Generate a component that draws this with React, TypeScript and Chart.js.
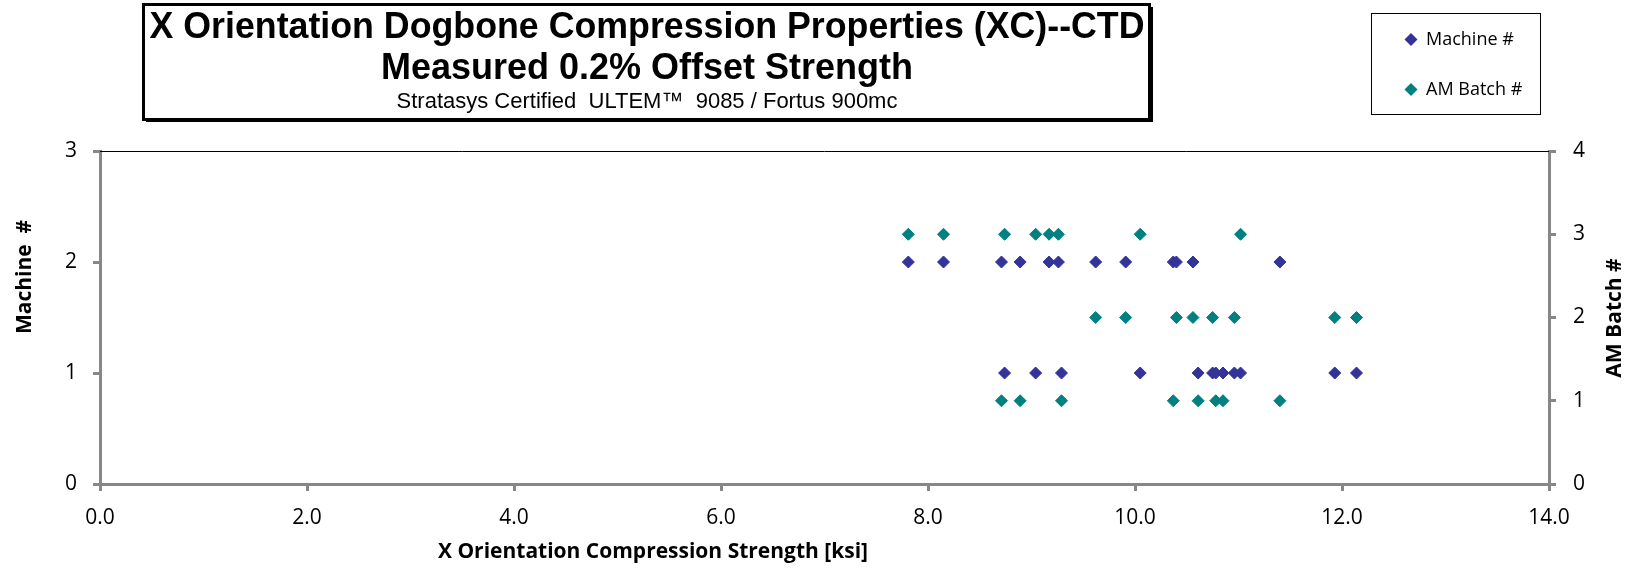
import { useEffect, useRef } from "react";
import { Chart, registerables } from "chart.js";

Chart.register(...registerables);

// ---- Data ----
const machineOneStrength = [8.74, 9.04, 9.29, 10.05, 10.61, 10.75, 10.78, 10.85, 10.96, 11.02, 11.93, 12.14];
const machineTwoStrength = [7.81, 8.15, 8.71, 8.89, 9.17, 9.26, 9.62, 9.91, 10.37, 10.4, 10.56, 11.4];
const batchOneStrength = [8.71, 8.89, 9.29, 10.37, 10.61, 10.78, 10.85, 11.4];
const batchTwoStrength = [9.62, 9.91, 10.4, 10.56, 10.75, 10.96, 11.93, 12.14];
const batchThreeStrength = [7.81, 8.15, 8.74, 9.04, 9.17, 9.26, 10.05, 11.02];

const machineGroups = [
  { id: 1, values: machineOneStrength },
  { id: 2, values: machineTwoStrength },
];
const batchGroups = [
  { id: 1, values: batchOneStrength },
  { id: 2, values: batchTwoStrength },
  { id: 3, values: batchThreeStrength },
];

const seriesLabels = ["Machine #", "AM Batch #"];
const seriesColors = ["#333399", "#008080"];

const titleLines = [
  "X Orientation Dogbone Compression Properties (XC)--CTD",
  "Measured 0.2% Offset Strength",
  "Stratasys Certified  ULTEM\u2122  9085 / Fortus 900mc",
];
const xAxisTitle = "X Orientation Compression Strength [ksi]";
const leftAxisTitle = "Machine  #";
const rightAxisTitle = "AM Batch #";

const xRange = [0, 14, 2];
const leftRange = [0, 3, 1];
const rightRange = [0, 4, 1];

const AXIS_GREY = "#878787";
const FONT = "'Open Sans', 'DejaVu Sans', sans-serif";
const TITLE_FONT = "'Liberation Sans', Arial, sans-serif";

const decorPlugin = {
  id: "decor",
  beforeDatasetsDraw(chart: any) {
    const { ctx, chartArea } = chart;
    ctx.save();
    ctx.strokeStyle = "#000";
    ctx.lineWidth = 1;
    ctx.beginPath();
    ctx.moveTo(chartArea.left, chartArea.top + 0.5);
    ctx.lineTo(chartArea.right, chartArea.top + 0.5);
    ctx.stroke();
    ctx.restore();
  },
  afterDraw(chart: any) {
    const { ctx } = chart;
    ctx.save();

    // Title box
    ctx.fillStyle = "#fff";
    ctx.fillRect(142, 3, 1010, 119);
    ctx.strokeStyle = "#000";
    ctx.lineWidth = 3;
    ctx.strokeRect(143.5, 4.5, 1006, 115);
    ctx.lineWidth = 2;
    ctx.beginPath();
    ctx.moveTo(146, 121);
    ctx.lineTo(1152, 121);
    ctx.lineTo(1152, 7);
    ctx.stroke();
    ctx.fillStyle = "#000";
    ctx.textAlign = "center";
    ctx.textBaseline = "alphabetic";
    const cx = 647;
    ctx.font = `bold 36px ${TITLE_FONT}`;
    ctx.fillText(titleLines[0], cx, 38, 995);
    ctx.fillText(titleLines[1], cx, 79);
    ctx.font = `22px ${TITLE_FONT}`;
    ctx.fillText(titleLines[2], cx, 108);

    // Legend box
    ctx.fillStyle = "#fff";
    ctx.fillRect(1371, 13, 170, 101);
    ctx.strokeStyle = "#000";
    ctx.lineWidth = 1;
    ctx.strokeRect(1371.5, 13.5, 169, 101);
    const rows = [39.5, 89.5];
    chart.data.datasets.forEach((ds: any, i: number) => {
      const y = rows[i];
      const x = 1411;
      const r = 6.5;
      ctx.fillStyle = ds.backgroundColor;
      ctx.beginPath();
      ctx.moveTo(x - r, y);
      ctx.lineTo(x, y - r);
      ctx.lineTo(x + r, y);
      ctx.lineTo(x, y + r);
      ctx.closePath();
      ctx.fill();
      ctx.fillStyle = "#000";
      ctx.font = `18px ${FONT}`;
      ctx.textAlign = "left";
      ctx.textBaseline = "middle";
      ctx.fillText(ds.label, 1426, y);
    });

    // Axis titles
    ctx.fillStyle = "#000";
    ctx.font = `bold 21px ${FONT}`;
    ctx.textAlign = "center";
    ctx.textBaseline = "middle";
    ctx.fillText(xAxisTitle, 653, 552);

    ctx.save();
    ctx.translate(25, 277);
    ctx.rotate(-Math.PI / 2);
    ctx.fillText(leftAxisTitle, 0, 0);
    ctx.restore();

    ctx.save();
    ctx.translate(1615, 318);
    ctx.rotate(-Math.PI / 2);
    ctx.fillText(rightAxisTitle, 0, 0);
    ctx.restore();

    ctx.restore();
  },
};

export default function App() {
  const canvasRef = useRef<HTMLCanvasElement | null>(null);

  useEffect(() => {
    const canvas = canvasRef.current;
    if (!canvas) return;

    const machineData = machineGroups.flatMap((g) => g.values.map((v) => ({ x: v, y: g.id })));
    const batchData = batchGroups.flatMap((g) => g.values.map((v) => ({ x: v, y: g.id })));

    const axisGrid = {
      display: true,
      drawOnChartArea: false,
      drawTicks: true,
      tickLength: 7,
      color: AXIS_GREY,
      lineWidth: 3,
    };
    const axisBorder = { display: true, color: AXIS_GREY, width: 3 };
    const tickFont = { family: FONT, size: 21 };

    const chart = new Chart(canvas, {
      type: "scatter",
      data: {
        datasets: [
          {
            label: seriesLabels[0],
            data: machineData,
            yAxisID: "y",
            backgroundColor: seriesColors[0],
            borderColor: seriesColors[0],
            pointStyle: "rectRot",
            pointRadius: 6,
            borderWidth: 1,
          },
          {
            label: seriesLabels[1],
            data: batchData,
            yAxisID: "y2",
            backgroundColor: seriesColors[1],
            borderColor: seriesColors[1],
            pointStyle: "rectRot",
            pointRadius: 6,
            borderWidth: 1,
          },
        ],
      },
      options: {
        animation: false,
        responsive: false,
        devicePixelRatio: 1,
        layout: { padding: { top: 151, left: 0, right: 0, bottom: 0 } },
        plugins: {
          legend: { display: false },
          title: { display: false },
          tooltip: { enabled: false },
        },
        scales: {
          x: {
            type: "linear",
            position: "bottom",
            min: xRange[0],
            max: xRange[1],
            grid: axisGrid,
            border: axisBorder,
            ticks: {
              stepSize: xRange[2],
              color: "#000",
              font: tickFont,
              padding: 14,
              maxRotation: 0,
              callback: (v: any) => Number(v).toFixed(1),
            },
            afterFit: (s: any) => {
              s.height = 87;
            },
          },
          y: {
            type: "linear",
            position: "left",
            min: leftRange[0],
            max: leftRange[1],
            grid: axisGrid,
            border: axisBorder,
            ticks: { stepSize: leftRange[2], color: "#000", font: tickFont, padding: 16 },
            afterFit: (s: any) => {
              s.width = 100;
            },
          },
          y2: {
            type: "linear",
            position: "right",
            min: rightRange[0],
            max: rightRange[1],
            grid: axisGrid,
            border: axisBorder,
            ticks: { stepSize: rightRange[2], color: "#000", font: tickFont, padding: 17 },
            afterFit: (s: any) => {
              s.width = 81;
            },
          },
        },
      },
      plugins: [decorPlugin],
    });

    return () => chart.destroy();
  }, []);

  return (
    <div style={{ position: "fixed", left: 0, top: 0, width: 1630, height: 571, background: "#fff" }}>
      <canvas ref={canvasRef} width={1630} height={571} style={{ display: "block" }} />
    </div>
  );
}
